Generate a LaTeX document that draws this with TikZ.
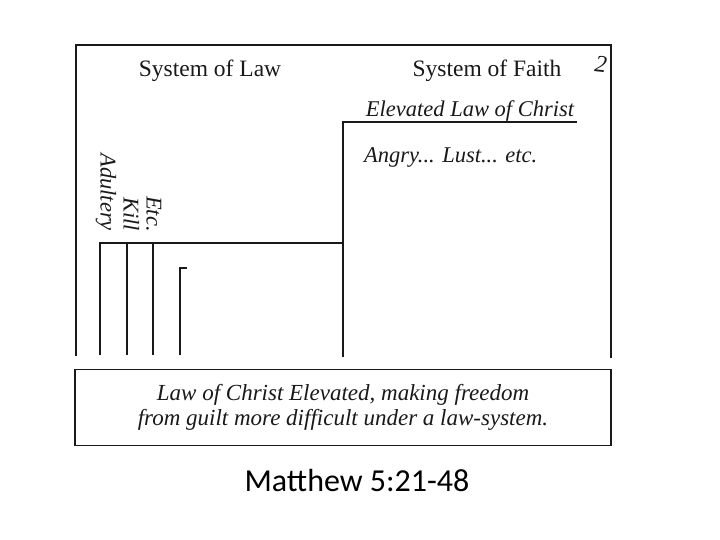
\documentclass[tikz,border=0pt]{standalone}
\usepackage{fontspec}
\setmainfont{Liberation Serif}
\newfontfamily\capfont{Carlito}
\usetikzlibrary{positioning}

\begin{document}
\begin{tikzpicture}[x=1pt, y=-1pt]
  \colorlet{inkcol}{black!90}

  \tikzset{
    frame/.style={draw=inkcol, line width=1.3pt, line cap=rect},
    rule/.style={draw=inkcol, line width=1.2pt},
    heading/.style={font=\fontsize{23.5}{26}\selectfont, text=inkcol, inner sep=0pt},
    lawtext/.style={font=\fontsize{22.5}{25}\selectfont\itshape, text=inkcol, inner sep=0pt},
    sidelabel/.style={lawtext, rotate=-90, anchor=mid east},
    notebox/.style={
      rectangle, draw=inkcol, line width=1.3pt,
      minimum width=536pt, minimum height=76pt,
      align=center, font=\fontsize{23}{25}\selectfont\itshape, text=inkcol
    }
  }

  \useasboundingbox (0,0) rectangle (720,540);

  % outer frame, open at the bottom
  \draw[frame] (76,355) -- (76,45) -- (611,45) -- (611,357);

  % headings
  \node[heading] (law) at (210,71) {System of Law};
  \node[heading] (faith) at (487,71) {System of Faith};
  \node[font=\fontsize{24}{24}\selectfont\itshape, text=inkcol, rotate=-6] (pagenum) at (601,64) {2};

  % faith step
  \draw[rule] (343,357) -- (343,122) -- (577,122);
  \node[lawtext, anchor=base] (elevated) at (470,117) {Elevated Law of Christ};
  \node[lawtext, anchor=base west] (angry) at (364,163) {Angry... Lust... etc.};

  % law step
  \draw[rule] (100,355) -- (100,243) -- (343,243);
  \draw[rule] (127,243) -- (127,355);
  \draw[rule] (153,243) -- (153,355);
  \draw[rule] (187,268) -- (180,268) -- (180,355);

  \node[sidelabel] (adultery) at (103,231) {Adultery};
  \node[sidelabel] (kill) at (126,231) {Kill};
  \node[sidelabel] (etc) at (149,232) {Etc.};

  % summary box
  \node[notebox] (note) at (343,407.5) {Law of Christ Elevated, making freedom\\from guilt more difficult under a law-system.};

  \node[font=\capfont\fontsize{32}{36}\selectfont, inner sep=0pt] (ref) at (357,481) {Matthew 5:21-48};
\end{tikzpicture}
\end{document}
